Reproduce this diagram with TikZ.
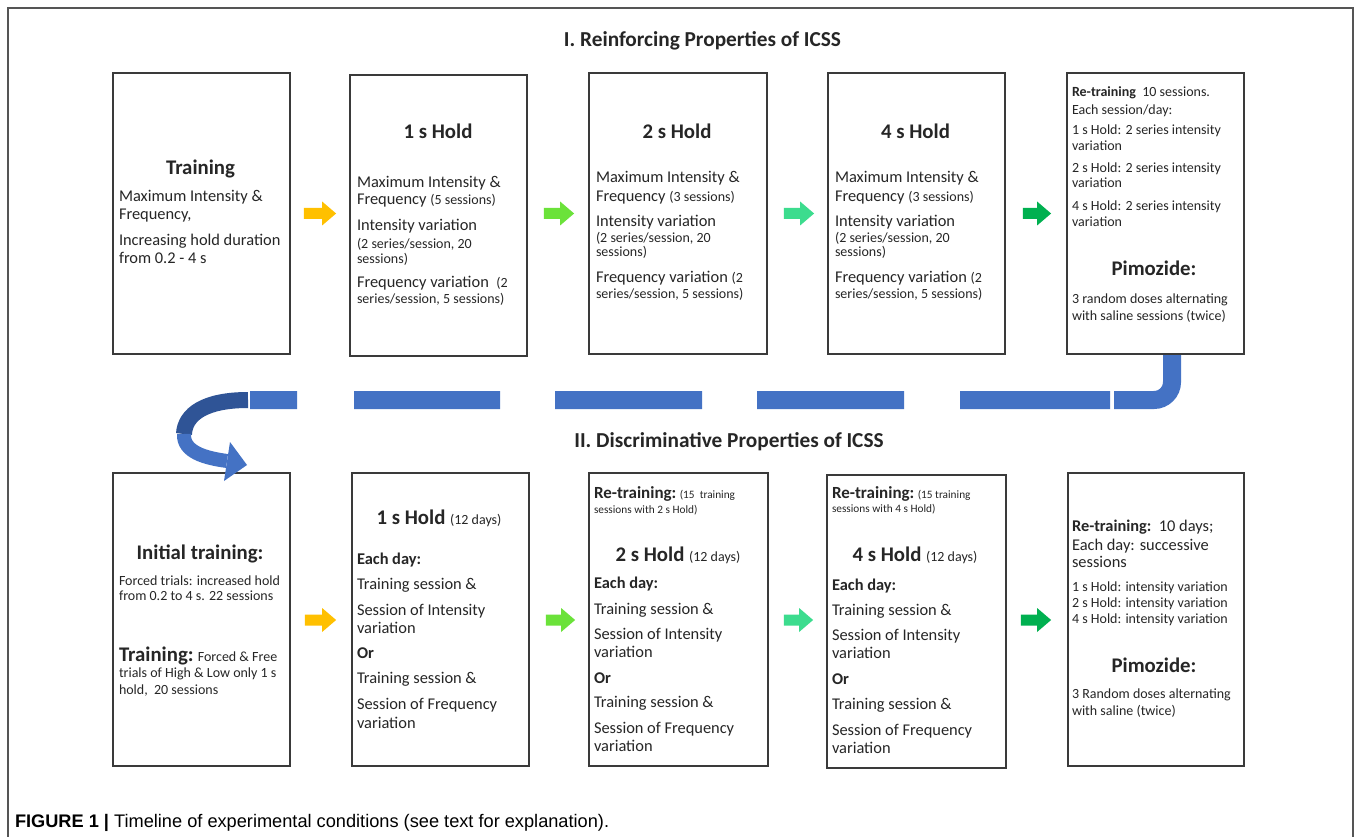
\documentclass[tikz,border=0pt]{standalone}
\usepackage{fontspec}
\setmainfont{Carlito}
\newfontfamily\capfamily{Liberation Sans}
\usetikzlibrary{arrows.meta,calc}
\definecolor{txtc}{HTML}{262626}
\definecolor{boxc}{HTML}{3A3A3A}
\definecolor{framec}{HTML}{555555}
\definecolor{arOrange}{HTML}{FFC000}
\definecolor{arLime}{HTML}{6BE23A}
\definecolor{arAqua}{HTML}{3CDC8E}
\definecolor{arGreen}{HTML}{00B050}
\definecolor{blueL}{HTML}{4472C4}
\definecolor{blueD}{HTML}{2F5496}
\newcommand\hdf{\bfseries\fontsize{20.8}{24}\selectfont}
\newcommand\mnf{\fontsize{16.4}{19}\selectfont}
\newcommand\smf{\fontsize{14}{16}\selectfont}
\newcommand\tnf{\fontsize{11.3}{13}\selectfont}
\newcommand\ttf{\bfseries\fontsize{21.3}{24}\selectfont}
\newcommand\tl[5][]{\node[txt,#1] (#2) at (#3,#4) {#5};}
\newcommand\barrow[3]{\fill[#1] let \p1=#2, \p2=#3 in
  (\x1,\y1+5.5) -- (\x2-14,\y1+5.5) -- (\x2-14,\y1+12) -- (\x2,\y1) --
  (\x2-14,\y1-12) -- (\x2-14,\y1-5.5) -- (\x1,\y1-5.5) -- cycle;}
\begin{document}
\begin{tikzpicture}[x=1pt,y=-1pt,
  txt/.style={anchor=base west,inner sep=0pt,outer sep=0pt,text=txtc,font=\mnf},
  hd/.style={anchor=base,font=\hdf},
  stagebox/.style={draw=boxc,line width=1.8pt,fill=white,inner sep=0pt,minimum width=177pt},
  toprow/.style={minimum height=281pt},
  botrow/.style={minimum height=293pt},
  dashline/.style={draw=blueL,line width=18pt,line cap=butt,rounded corners=18pt,
    dash pattern=on 95pt off 4pt on 150pt off 56pt on 147pt off 55pt on 147pt off 55pt on 146pt off 57pt on 47pt off 20pt}]
\useasboundingbox (0,0) rectangle (1360,837);
\fill[white] (0,0) rectangle (1360,837);
% frame
\draw[framec,line width=1.2pt] (8,837) -- (8,8) -- (1353,8) -- (1353,837);
% titles
\node[txt,anchor=base,font=\ttf] (t1) at (702.5,47) {I. Reinforcing Properties of ICSS};
\node[txt,anchor=base,font=\ttf] (t2) at (729,447) {II. Discriminative Properties of ICSS};
% boxes
\node[stagebox,toprow] (b1) at (201.5,213.5) {};
\node[stagebox,toprow] (b2) at (438.5,215.5) {};
\node[stagebox,toprow,minimum width=178pt] (b3) at (678,213.5) {};
\node[stagebox,toprow] (b4) at (916.5,213.5) {};
\node[stagebox,toprow] (b5) at (1155.5,213.5) {};
\node[stagebox,botrow] (b6) at (201.5,619.5) {};
\node[stagebox,botrow] (b7) at (440.5,619.5) {};
\node[stagebox,botrow,minimum width=179pt] (b8) at (678.5,619.5) {};
\node[stagebox,botrow,minimum width=179pt] (b9) at (916.5,621.5) {};
\node[stagebox,botrow,minimum width=176pt] (b10) at (1156,619.5) {};
% block arrows
\barrow{arOrange}{([xshift=13pt]b1.east)}{([xshift=-13pt]b2.west |- b1.east)}
\barrow{arLime}{([xshift=16pt]b2.east |- b1.east)}{([xshift=-14pt]b3.west)}
\barrow{arAqua}{([xshift=16pt]b3.east)}{([xshift=-13pt]b4.west)}
\barrow{arGreen}{([xshift=17pt]b4.east)}{([xshift=-15pt]b5.west)}
\barrow{arOrange}{([xshift=14pt,yshift=-0.5pt]b6.east)}{([xshift=-15pt]b7.west)}
\barrow{arLime}{([xshift=16pt,yshift=-0.5pt]b7.east)}{([xshift=-13pt]b8.west)}
\barrow{arAqua}{([xshift=15pt,yshift=-0.5pt]b8.east)}{([xshift=-13pt]b9.west)}
\barrow{arGreen}{([xshift=14pt,yshift=-0.5pt]b9.east |- b8.east)}{([xshift=-16pt]b10.west)}
% dashed J connector and curved arrow
\coordinate (jtop) at (1172,355);
\coordinate (jcorner) at (1172,400);
\coordinate (jend) at (250,400);
\coordinate (cstart) at (248,400);
\coordinate (cmid) at (184,434);
\coordinate (cend) at (227,461);
\coordinate (ctip) at (247,465);
\draw[dashline] (jtop) -- (jcorner) -- (jend);
\draw[blueD,line width=16pt] (cstart) .. controls (205,400) and (185,414) .. (cmid);
\draw[blueL,line width=14pt] (cmid) .. controls (183,452) and (205,458) .. (cend);
\fill[blueL] (230,442) -- (ctip) -- (224,481) -- cycle;
% Box 1
\tl[hd]{b1h}{200.5}{175}{Training}
\tl{b1a}{119}{202}{Maximum Intensity \&}
\tl{b1b}{119}{219}{Frequency,}
\tl{b1c}{119}{245}{Increasing hold duration}
\tl{b1d}{119}{263}{from 0.2 - 4 s}
% Box 2
\tl[hd]{b2h}{438}{139}{1 s Hold}
\tl{b2a}{357}{188}{Maximum Intensity \&}
\tl{b2b}{357}{205}{Frequency {\smf(5 sessions)}}
\tl{b2c}{357}{231}{Intensity variation}
\tl[font=\smf]{b2d}{357}{248}{(2 series/session, 20}
\tl[font=\smf]{b2e}{357}{263}{sessions)}
\tl{b2f}{357}{287}{Frequency variation\ \ {\smf(2}}
\tl[font=\smf]{b2g}{357}{303}{series/session, 5 sessions)}
% Box 3
\tl[hd]{b3h}{677}{139}{2 s Hold}
\tl{b3a}{596}{183}{Maximum Intensity \&}
\tl{b3b}{596}{202}{Frequency {\smf(3 sessions)}}
\tl{b3c}{596}{226}{Intensity variation}
\tl[font=\smf]{b3d}{596}{243}{(2 series/session, 20}
\tl[font=\smf]{b3e}{596}{257}{sessions)}
\tl{b3f}{596}{282}{Frequency variation {\smf(2}}
\tl[font=\smf]{b3g}{596}{298}{series/session, 5 sessions)}
% Box 4
\tl[hd]{b4h}{915.5}{139}{4 s Hold}
\tl{b4a}{835}{183}{Maximum Intensity \&}
\tl{b4b}{835}{202}{Frequency {\smf(3 sessions)}}
\tl{b4c}{835}{226}{Intensity variation}
\tl[font=\smf]{b4d}{835}{243}{(2 series/session, 20}
\tl[font=\smf]{b4e}{835}{257}{sessions)}
\tl{b4f}{835}{282}{Frequency variation {\smf(2}}
\tl[font=\smf]{b4g}{835}{298}{series/session, 5 sessions)}
% Box 5
\tl[font=\smf]{b5a}{1072}{97}{\textbf{Re-training}\ \ 10 sessions.}
\tl[font=\smf]{b5b}{1072}{115}{Each session/day:}
\tl[font=\smf]{b5c}{1072}{135}{1 s Hold: 2 series intensity}
\tl[font=\smf]{b5d}{1072}{151}{variation}
\tl[font=\smf]{b5e}{1072}{173}{2 s Hold: 2 series intensity}
\tl[font=\smf]{b5f}{1072}{188}{variation}
\tl[font=\smf]{b5g}{1072}{211}{4 s Hold: 2 series intensity}
\tl[font=\smf]{b5h}{1072}{226}{variation}
\tl[hd]{b5p}{1154}{275}{Pimozide:}
\tl[font=\smf]{b5i}{1072}{303}{3 random doses alternating}
\tl[font=\smf]{b5j}{1072}{320}{with saline sessions (twice)}
% Box 6
\tl[hd]{b6h}{200}{559}{Initial training:}
\tl[font=\smf]{b6a}{119}{585}{Forced trials: increased hold}
\tl[font=\smf]{b6b}{119}{600}{from 0.2 to 4 s. 22 sessions}
\tl[font=\smf]{b6c}{119}{661}{{\hdf Training:} Forced \& Free}
\tl[font=\smf]{b6d}{119}{677}{trials of High \& Low only 1 s}
\tl[font=\smf]{b6e}{119}{694}{hold,\ \ 20 sessions}
% Box 7
\tl[hd]{b7h}{439}{524}{1 s Hold {\mdseries\smf (12 days)}}
\tl[font=\bfseries\mnf]{b7a}{357}{564}{Each day:}
\tl{b7b}{357}{589}{Training session \&}
\tl{b7c}{357}{615}{Session of Intensity}
\tl{b7d}{357}{633}{variation}
\tl[font=\bfseries\mnf]{b7e}{357}{658}{Or}
\tl{b7f}{357}{683}{Training session \&}
\tl{b7g}{357}{709}{Session of Frequency}
\tl{b7i}{357}{728}{variation}
% Box 8
\tl[font=\tnf]{b8r}{594}{498}{{\bfseries\fontsize{17}{19}\selectfont Re-training:} (15\ \ training}
\tl[font=\tnf]{b8s}{594}{513}{sessions with 2 s Hold)}
\tl[hd]{b8h}{678}{561}{2 s Hold {\mdseries\smf (12 days)}}
\tl[font=\bfseries\mnf]{b8a}{594}{588}{Each day:}
\tl{b8b}{594}{614}{Training session \&}
\tl{b8c}{594}{639}{Session of Intensity}
\tl{b8d}{594}{657}{variation}
\tl[font=\bfseries\mnf]{b8e}{594}{683}{Or}
\tl{b8f}{594}{707}{Training session \&}
\tl{b8g}{594}{733}{Session of Frequency}
\tl{b8i}{594}{751}{variation}
% Box 9
\tl[font=\tnf]{b9r}{832}{498}{{\bfseries\fontsize{17}{19}\selectfont Re-training:} (15 training}
\tl[font=\tnf]{b9s}{832}{512}{sessions with 4 s Hold)}
\tl[hd]{b9h}{915}{561}{4 s Hold {\mdseries\smf (12 days)}}
\tl[font=\bfseries\mnf]{b9a}{832}{590}{Each day:}
\tl{b9b}{832}{615}{Training session \&}
\tl{b9c}{832}{640}{Session of Intensity}
\tl{b9d}{832}{658}{variation}
\tl[font=\bfseries\mnf]{b9e}{832}{684}{Or}
\tl{b9f}{832}{709}{Training session \&}
\tl{b9g}{832}{735}{Session of Frequency}
\tl{b9i}{832}{753}{variation}
% Box 10
\tl{b10a}{1072}{531}{\textbf{Re-training:}\ \ 10 days;}
\tl{b10b}{1072}{550}{Each day: successive}
\tl{b10c}{1072}{567}{sessions}
\tl[font=\smf]{b10d}{1072}{591}{1 s Hold: intensity variation}
\tl[font=\smf]{b10e}{1072}{607}{2 s Hold: intensity variation}
\tl[font=\smf]{b10f}{1072}{623}{4 s Hold: intensity variation}
\tl[hd]{b10p}{1154}{672}{Pimozide:}
\tl[font=\smf]{b10g}{1072}{698}{3 Random doses alternating}
\tl[font=\smf]{b10h}{1072}{715}{with saline (twice)}
% caption
\node[txt,text=black,font=\capfamily\fontsize{18.2}{21}\selectfont] (cap) at (15,827) {\textbf{FIGURE 1 |} Timeline of experimental conditions (see text for explanation).};
\end{tikzpicture}
\end{document}
